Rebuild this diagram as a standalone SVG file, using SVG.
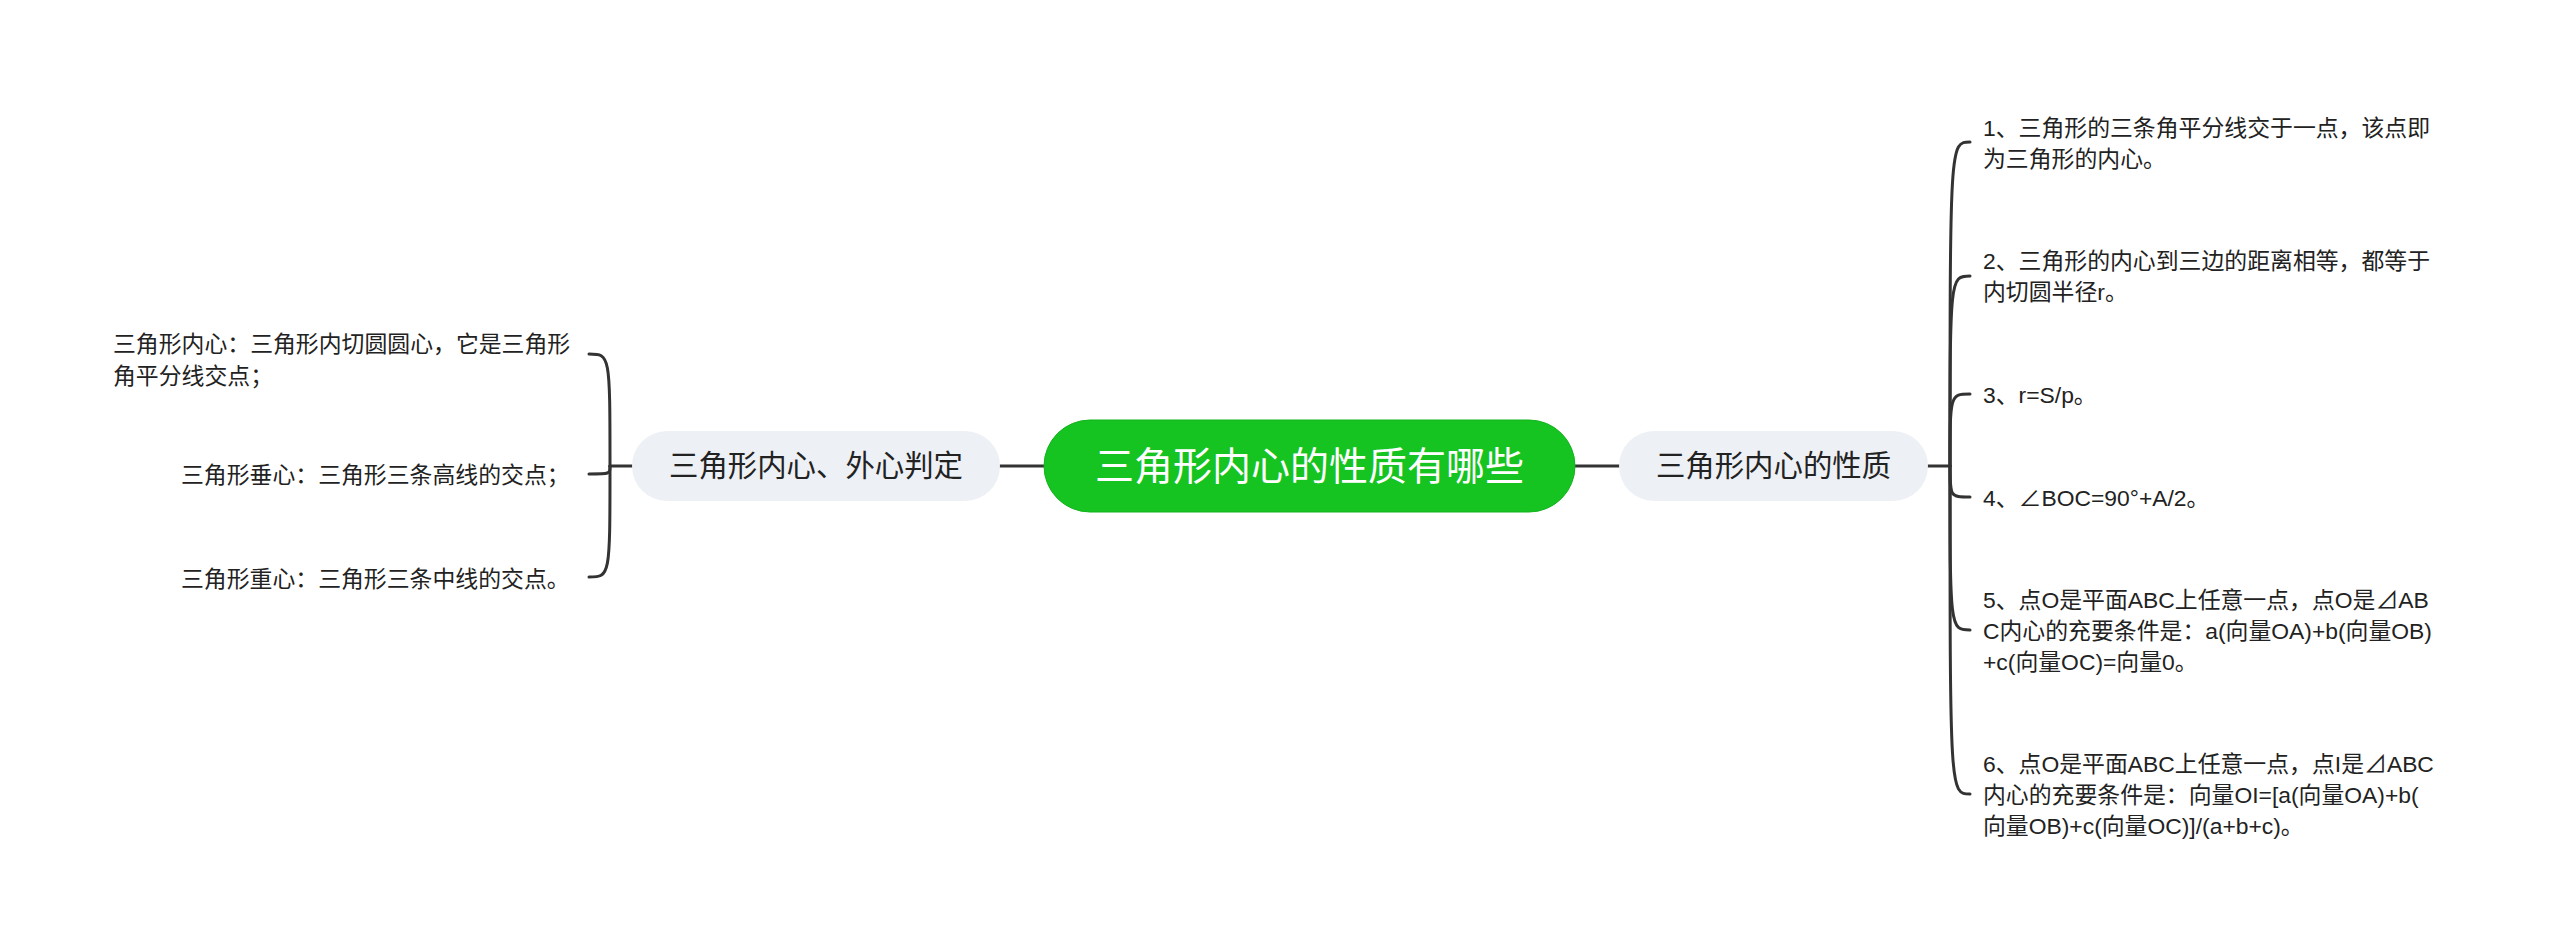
<svg xmlns="http://www.w3.org/2000/svg" width="2560" height="947" viewBox="0 0 2560 947">
<style>
.bg{fill:#ffffff}
.ln{fill:none;stroke:#333333;stroke-width:3;stroke-linecap:round}
.root{fill:#15c321;stroke:#13b31e;stroke-width:1}
.sub{fill:#edf0f4}
.t{font-family:"Liberation Sans","Noto Sans CJK SC",sans-serif}
.rt{font-size:39px;fill:#ffffff}
.st{font-size:29.4px;fill:#222222}
.lt{font-size:22.86px;fill:#222222}
</style>
<rect class="bg" x="0" y="0" width="2560" height="947"/>
<g id="connectors">
<line class="ln" x1="1000" y1="466" x2="1044" y2="466"/>
<line class="ln" x1="1575" y1="466" x2="1619" y2="466"/>
<line class="ln" x1="610" y1="466" x2="632" y2="466"/>
<line class="ln" x1="1928" y1="466" x2="1950" y2="466"/>
<path class="ln" d="M610 466 C610 354 610 354 589 354"/>
<path class="ln" d="M610 466 C610 474 610 474 589 474"/>
<path class="ln" d="M610 466 C610 577 610 577 589 577"/>
<path class="ln" d="M1950 466 C1950 142 1950 142 1970 142"/>
<path class="ln" d="M1950 466 C1950 276 1950 276 1970 276"/>
<path class="ln" d="M1950 466 C1950 394 1950 394 1970 394"/>
<path class="ln" d="M1950 466 C1950 497 1950 497 1970 497"/>
<path class="ln" d="M1950 466 C1950 630 1950 630 1970 630"/>
<path class="ln" d="M1950 466 C1950 794 1950 794 1970 794"/>
</g>
<g id="root">
<rect class="root" x="1044" y="420" width="531" height="92" rx="46"/>
<text class="t rt" x="1309.5" y="480" text-anchor="middle">三角形内心的性质有哪些</text>
</g>
<g id="left-topic">
<rect class="sub" x="632" y="431" width="368" height="70" rx="35"/>
<text class="t st" x="816" y="476" text-anchor="middle">三角形内心、外心判定</text>
</g>
<g id="right-topic">
<rect class="sub" x="1619" y="431" width="309" height="70" rx="35"/>
<text class="t st" x="1773.5" y="476" text-anchor="middle">三角形内心的性质</text>
</g>
<g id="left-1">
<text class="t lt" x="113" y="352">三角形内心：三角形内切圆圆心，它是三角形<tspan x="113" y="384">角平分线交点；</tspan></text>
</g>
<g id="left-2">
<text class="t lt" x="181" y="483">三角形垂心：三角形三条高线的交点；</text>
</g>
<g id="left-3">
<text class="t lt" x="181" y="587">三角形重心：三角形三条中线的交点。</text>
</g>
<g id="right-1">
<text class="t lt" x="1983" y="136">1、三角形的三条角平分线交于一点，该点即<tspan x="1983" y="167">为三角形的内心。</tspan></text>
</g>
<g id="right-2">
<text class="t lt" x="1983" y="269">2、三角形的内心到三边的距离相等，都等于<tspan x="1983" y="300">内切圆半径r。</tspan></text>
</g>
<g id="right-3">
<text class="t lt" x="1983" y="403">3、r=S/p。</text>
</g>
<g id="right-4">
<text class="t lt" x="1983" y="506">4、∠BOC=90°+A/2。</text>
</g>
<g id="right-5">
<text class="t lt" x="1983" y="608">5、点O是平面ABC上任意一点，点O是⊿AB<tspan x="1983" y="639">C内心的充要条件是：a(向量OA)+b(向量OB)</tspan><tspan x="1983" y="670">+c(向量OC)=向量0。</tspan></text>
</g>
<g id="right-6">
<text class="t lt" x="1983" y="772">6、点O是平面ABC上任意一点，点I是⊿ABC<tspan x="1983" y="803">内心的充要条件是：向量OI=[a(向量OA)+b(</tspan><tspan x="1983" y="834">向量OB)+c(向量OC)]/(a+b+c)。</tspan></text>
</g>
</svg>
